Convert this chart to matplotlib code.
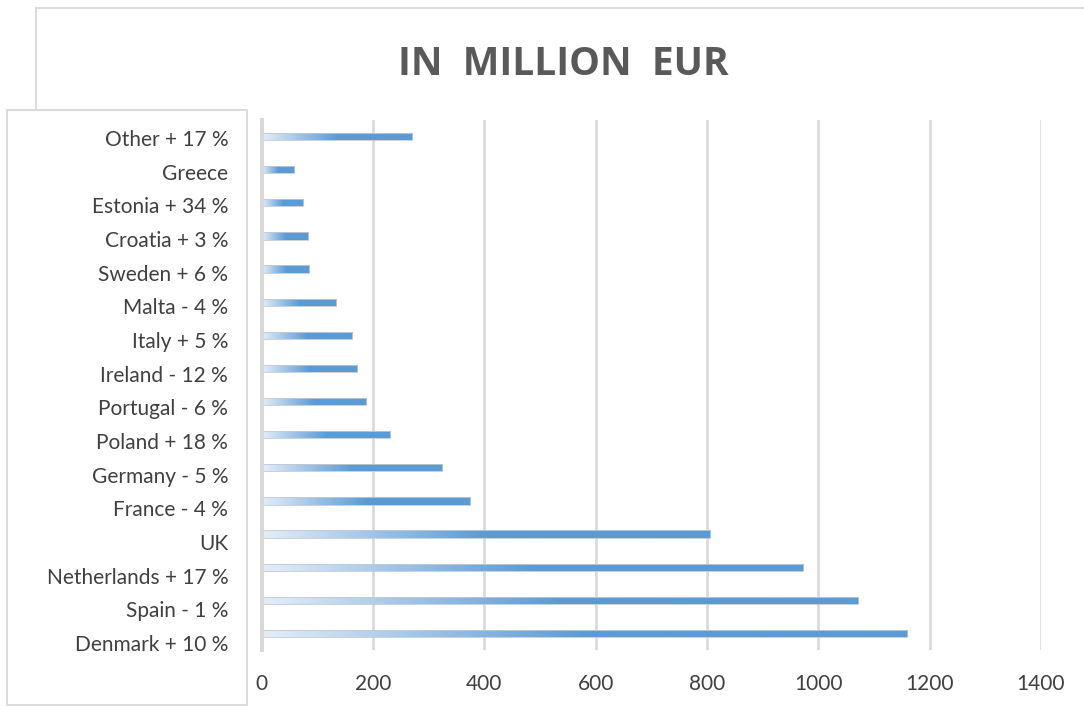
import numpy as np
import matplotlib
matplotlib.use("Agg")
import matplotlib.pyplot as plt
from matplotlib.colors import LinearSegmentedColormap
from matplotlib.lines import Line2D
from matplotlib.patches import Rectangle

plt.rcParams['font.family'] = ['Lato', 'DejaVu Sans']

# Categories (bottom to top) and values in million EUR
categories = ["Denmark + 10 %", "Spain - 1 %", "Netherlands + 17 %", "UK",
              "France - 4 %", "Germany - 5 %", "Poland + 18 %", "Portugal - 6 %",
              "Ireland - 12 %", "Italy + 5 %", "Malta - 4 %", "Sweden + 6 %",
              "Croatia + 3 %", "Estonia + 34 %", "Greece", "Other + 17 %"]
values = [1159, 1071, 972, 805, 374, 325, 230, 187, 171, 163, 133, 86, 83, 74, 58, 271]
x_ticks = [0, 200, 400, 600, 800, 1000, 1200, 1400]
title = "IN  MILLION  EUR"

W, H = 1084, 706
fig = plt.figure(figsize=(W / 100, H / 100), dpi=100)
fig.patch.set_facecolor("white")

def fx(px):
    return px / W

def fy(py):
    return 1 - py / H

frame_col = "#d9d9d9"
# outer chart frame
fig.add_artist(Line2D([fx(36), fx(36)], [fy(8), fy(110)], color=frame_col, lw=1.3,
                      zorder=-2))
fig.add_artist(Line2D([fx(36), fx(1084)], [fy(8), fy(8)], color=frame_col, lw=1.3,
                      zorder=-2))
# label panel
fig.add_artist(Rectangle((fx(7), fy(705)), fx(247) - fx(7), fy(110) - fy(705),
                         transform=fig.transFigure, facecolor="white",
                         edgecolor=frame_col, lw=1.3, zorder=-1))

left_px, right_px, top_px, bot_px = 261.5, 1041, 120, 650
ax = fig.add_axes([fx(left_px), fy(bot_px), fx(right_px) - fx(left_px),
                   fy(top_px) - fy(bot_px)])
ax.set_facecolor("none")
ax.set_zorder(2)

y = np.arange(len(categories))
bars = ax.barh(y, values, height=0.22, color="none", edgecolor="#c3cad2",
               linewidth=0.6, zorder=3)

cmap = LinearSegmentedColormap.from_list("fade", ["#e4eef8", "#9fc3e7", "#5b9bd5"])
for patch, v in zip(bars.patches, values):
    xs = np.linspace(0, 1, 256)
    grad = np.clip(xs / 0.5, 0, 1)[None, :]
    y0 = patch.get_y()
    im = ax.imshow(grad, extent=[0, v, y0, y0 + patch.get_height()], aspect="auto",
                   cmap=cmap, vmin=0, vmax=1, interpolation="bilinear", zorder=2)
    im.set_clip_path(patch)

ax.set_xlim(0, 1400)
ax.set_ylim(-0.5, len(categories) - 0.5)
ax.set_xticks(x_ticks)
ax.set_xticklabels([str(t) for t in x_ticks])
ax.set_yticks(y)
ax.set_yticklabels([])
ax.xaxis.grid(True, color="#d9d9d9", lw=1.9)
ax.set_axisbelow(True)
for s in ["top", "right", "bottom"]:
    ax.spines[s].set_visible(False)
ax.spines["left"].set_color("#d9d9d9")
ax.spines["left"].set_linewidth(2.9)
ax.spines["left"].set_zorder(4)
ax.tick_params(axis="both", length=0, labelsize=15, labelcolor="#404040")
ax.tick_params(axis="x", pad=17)

# category labels sit on a slightly wider spacing than the bars
lab = ax.twinx()
lab.set_zorder(1)
lab.set_ylim(-0.21, len(categories) - 0.465)
lab.yaxis.tick_left()
lab.set_yticks(y)
lab.set_yticklabels(categories)
lab.tick_params(axis="y", length=0, labelsize=15, labelcolor="#404040", pad=24)
for s in lab.spines.values():
    s.set_visible(False)

fig.text(fx(563), fy(75), title, ha="center", va="baseline", fontsize=28,
         fontweight="bold", color="#595959", family=["Open Sans", "DejaVu Sans"])

fig.savefig("out.png", dpi=100)
